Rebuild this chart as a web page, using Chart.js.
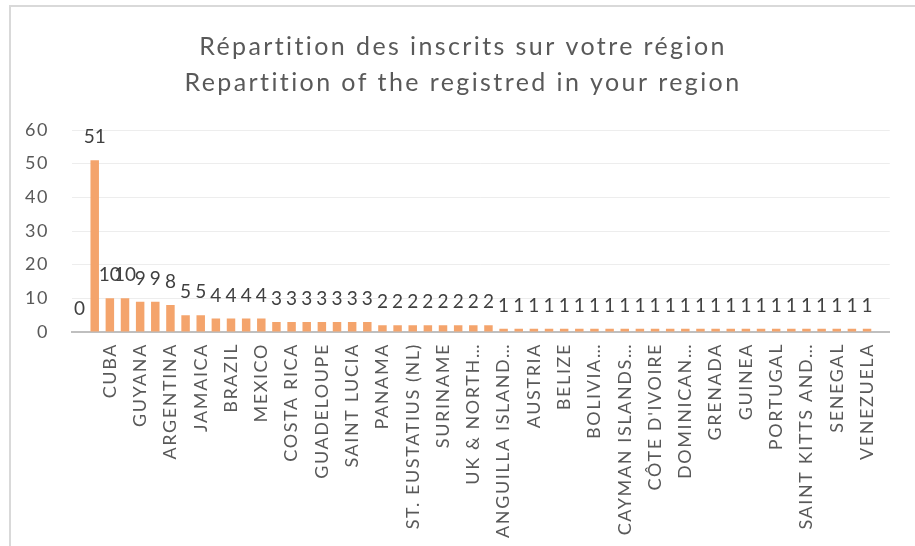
<!DOCTYPE html>
<html>
<head>
<meta charset="utf-8">
<script src="https://cdn.jsdelivr.net/npm/chart.js@4/dist/chart.umd.min.js"></script>
<style>
  html, body { margin: 0; padding: 0; background: #fff; }
  #wrap { position: relative; width: 915px; height: 546px; overflow: hidden; }
  #frame { position: absolute; left: 9px; top: 5px; width: 920px; height: 560px;
           border-left: 2px solid #D9D9D9; border-top: 2px solid #D9D9D9; box-sizing: border-box; }
  canvas { position: absolute; left: 0; top: 0; }
</style>
</head>
<body>
<div id="wrap">
  <div id="frame"></div>
  <canvas id="c" width="915" height="546"></canvas>
</div>
<script>
const titleLines = [
  "Répartition des inscrits sur votre région",
  "Repartition of the registred in your region"
];

const categories = [
  "", "HAITI", "CUBA", "DOMINICA", "GUYANA", "HONDURAS", "ARGENTINA", "CANADA",
  "JAMAICA", "BARBADOS", "BRAZIL", "COLOMBIA", "MEXICO", "CHILE", "COSTA RICA",
  "FRANCE", "GUADELOUPE", "MARTINIQUE", "SAINT LUCIA", "TRINIDAD AND TOBAGO",
  "PANAMA", "PUERTO RICO", "ST. EUSTATIUS (NL)", "ST. MAARTEN (NL)", "SURINAME",
  "TURKS AND CAICOS", "UK & NORTH…", "USA", "ANGUILLA ISLAND…", "ANTIGUA AND BARBUDA",
  "AUSTRIA", "BAHAMAS", "BELIZE", "BERMUDA", "BOLIVIA…", "CAMEROON",
  "CAYMAN ISLANDS…", "CHINA", "CÔTE D'IVOIRE", "DOMINICA ISLAND", "DOMINICAN…",
  "ECUADOR", "GRENADA", "GUATEMALA", "GUINEA", "ITALY", "PORTUGAL",
  "SAINT BARTHÉLEMY", "SAINT KITTS AND…", "SAINT VINCENT…", "SENEGAL", "SPAIN",
  "VENEZUELA", ""
];

const registered = [
  0, 51, 10, 10, 9, 9, 8, 5,
  5, 4, 4, 4, 4, 3, 3,
  3, 3, 3, 3, 3,
  2, 2, 2, 2, 2,
  2, 2, 2, 1, 1,
  1, 1, 1, 1, 1, 1,
  1, 1, 1, 1, 1,
  1, 1, 1, 1, 1, 1,
  1, 1, 1, 1, 1,
  1, null
];

const yTicks = [0, 10, 20, 30, 40, 50, 60];

const TEXT = '#595959';
const FONT = "Lato, 'Open Sans', sans-serif";

// letter spacing used by the axis labels (Chart.js measures and draws with this ctx state)
const spacingPlugin = {
  id: 'axisSpacing',
  beforeInit(chart) { chart.ctx.letterSpacing = '1.6px'; },
  beforeLayout(chart) { chart.ctx.letterSpacing = '1.6px'; },
  beforeDraw(chart) { chart.ctx.letterSpacing = '1.6px'; }
};

const titlePlugin = {
  id: 'twoLineTitle',
  afterDraw(chart) {
    const ctx = chart.ctx;
    ctx.save();
    ctx.fillStyle = TEXT;
    ctx.font = "25px " + FONT;
    ctx.letterSpacing = '2.4px';
    ctx.textAlign = 'center';
    ctx.textBaseline = 'middle';
    ctx.fillText(titleLines[0], 463, 47);
    ctx.fillText(titleLines[1], 463, 83);
    ctx.restore();
  }
};

const valueLabels = {
  id: 'valueLabels',
  afterDatasetsDraw(chart) {
    const ctx = chart.ctx;
    const meta = chart.getDatasetMeta(0);
    ctx.save();
    ctx.letterSpacing = '0px';
    ctx.fillStyle = '#404040';
    ctx.font = "19px " + FONT;
    ctx.textAlign = 'center';
    ctx.textBaseline = 'alphabetic';
    meta.data.forEach((bar, i) => {
      const v = chart.data.datasets[0].data[i];
      if (v === null || v === undefined) return;
      ctx.fillText(String(v), bar.x, bar.y - 17);
    });
    ctx.restore();
  }
};

new Chart(document.getElementById('c'), {
  type: 'bar',
  data: {
    labels: categories,
    datasets: [{
      data: registered,
      backgroundColor: '#F4A46C',
      borderWidth: 0,
      categoryPercentage: 1.0,
      barPercentage: 0.56
    }]
  },
  options: {
    responsive: false,
    animation: false,
    devicePixelRatio: 1,
    layout: { padding: { left: 10, right: 23, top: 130, bottom: 0 } },
    plugins: {
      legend: { display: false },
      title: { display: false },
      tooltip: { enabled: false }
    },
    scales: {
      x: {
        grid: { display: false, drawTicks: false },
        border: { display: true, color: '#BFBFBF', width: 2 },
        afterFit(scale) { scale.height = 214; },
        ticks: {
          autoSkip: false,
          maxRotation: 90,
          minRotation: 90,
          padding: 11,
          color: TEXT,
          font: { family: FONT, size: 18 },
          callback(value, index) {
            return index % 2 === 0 ? categories[index] : '';
          }
        }
      },
      y: {
        min: 0,
        max: 60,
        afterFit(scale) { scale.width = 62; },
        afterBuildTicks(scale) { scale.ticks = yTicks.map(v => ({ value: v })); },
        grid: { color: '#EDEDED', lineWidth: 1, drawTicks: false },
        border: { display: false },
        ticks: {
          padding: 23,
          color: TEXT,
          font: { family: FONT, size: 18 }
        }
      }
    }
  },
  plugins: [spacingPlugin, titlePlugin, valueLabels]
});
</script>
</body>
</html>
